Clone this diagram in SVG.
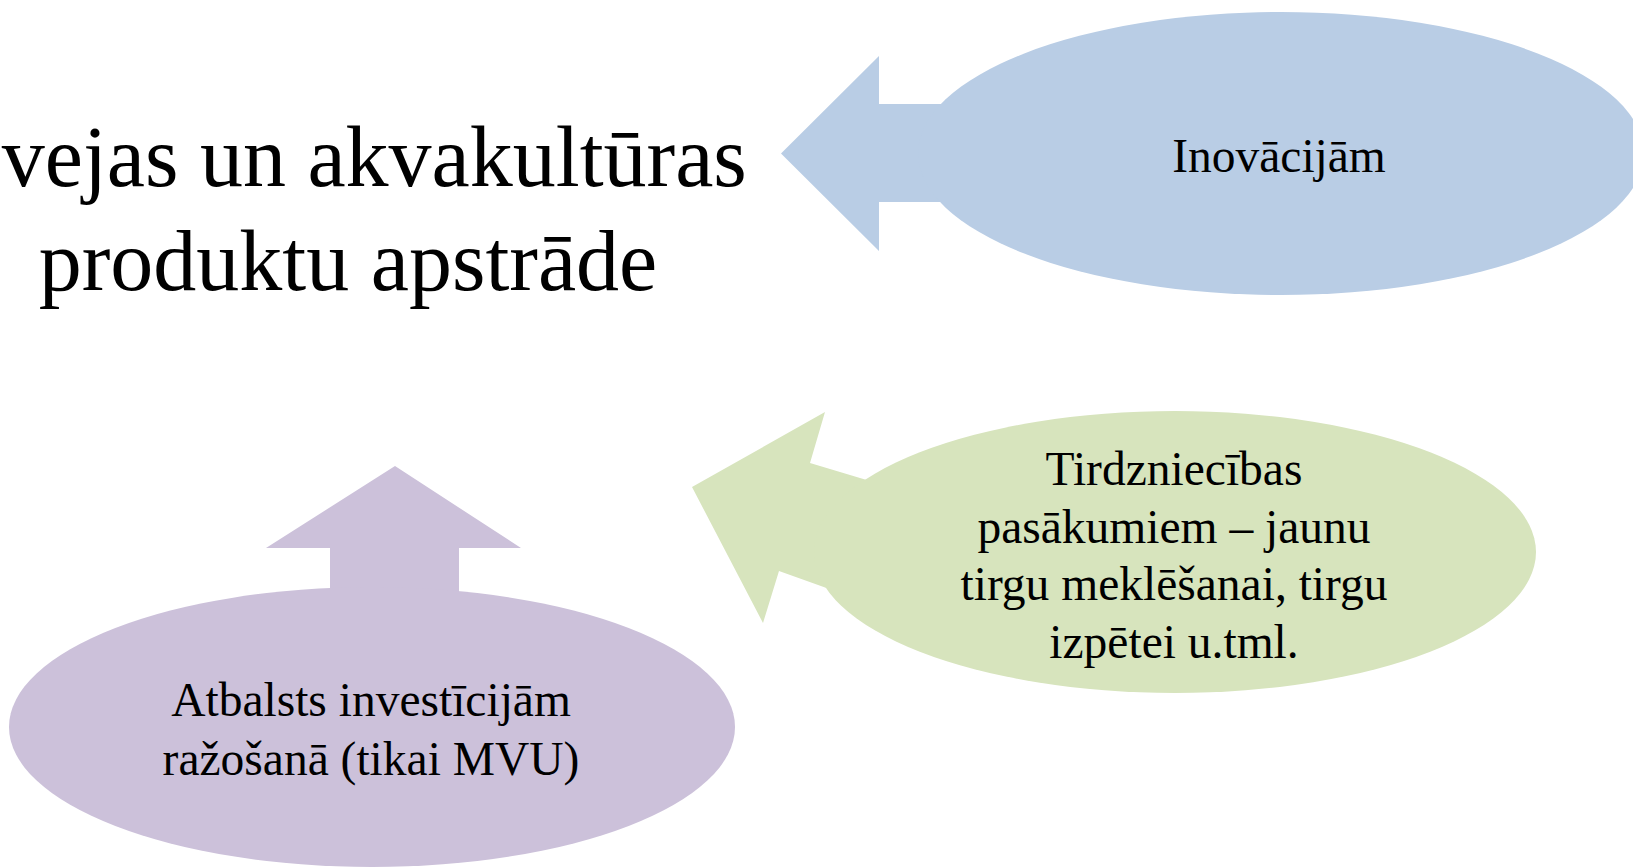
<svg xmlns="http://www.w3.org/2000/svg" width="1633" height="868" viewBox="0 0 1633 868">
<style>
text{font-family:"Liberation Serif","Times New Roman",serif;fill:#000;text-anchor:middle}
.title{font-size:86px}
.lbl{font-size:47.5px}
.blue{fill:#B9CDE5}
.green{fill:#D7E4BD}
.purple{fill:#CCC1DA}
</style>
<rect width="1633" height="868" fill="#fff"/>
<g id="title">
<text class="title" x="348" y="186">Zvejas un akvakultūras</text>
<text class="title" x="348" y="290">produktu apstrāde</text>
</g>
<g id="connectors">
<polygon class="blue" points="781,153.5 879,56 879,104 980,104 980,202 879,202 879,251"/>
<polygon class="green" points="692,487 825,412 810,463 900,490 860,600 779,571 763,623"/>
<polygon class="purple" points="395,466 521,548 459,548 459,620 330,620 330,548 266,548"/>
</g>
<g id="node-inovacijam">
<ellipse class="blue" cx="1281" cy="153.5" rx="363" ry="141.5"/>
<text class="lbl" x="1279" y="172">Inovācijām</text>
</g>
<g id="node-tirdzniecibas">
<ellipse class="green" cx="1175" cy="552" rx="361" ry="141"/>
<text class="lbl" x="1174" y="485">Tirdzniecības</text>
<text class="lbl" x="1174" y="543">pasākumiem – jaunu</text>
<text class="lbl" x="1174" y="600">tirgu meklēšanai, tirgu</text>
<text class="lbl" x="1174" y="658">izpētei u.tml.</text>
</g>
<g id="node-atbalsts">
<ellipse class="purple" cx="372" cy="727" rx="363" ry="140"/>
<text class="lbl" x="371" y="716">Atbalsts investīcijām</text>
<text class="lbl" x="371" y="775">ražošanā (tikai MVU)</text>
</g>
</svg>
